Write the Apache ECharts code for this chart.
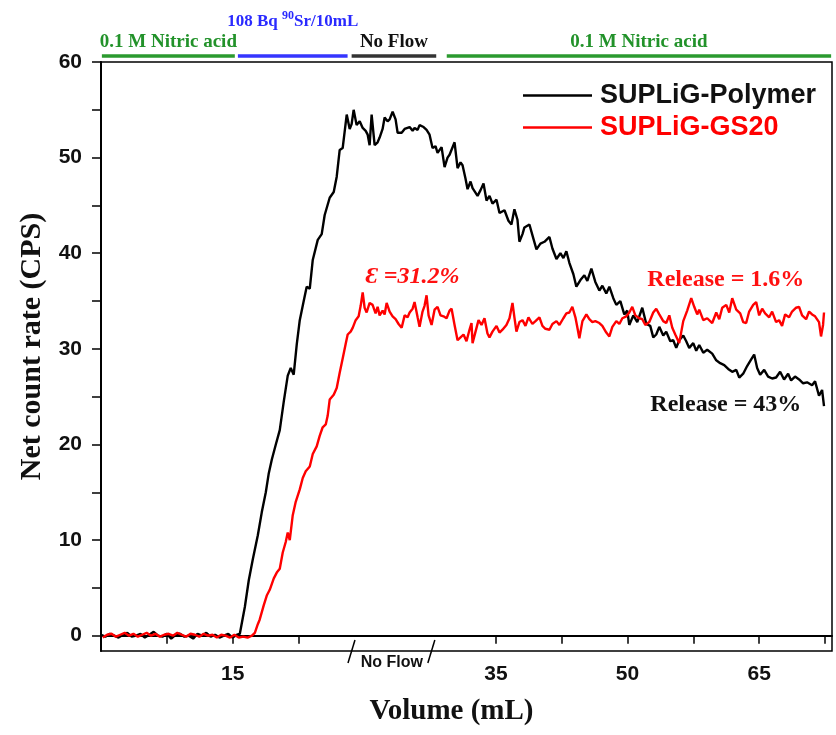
<!DOCTYPE html>
<html>
<head>
<meta charset="utf-8">
<title>SUPLiG release</title>
<script src="https://cdn.jsdelivr.net/npm/echarts@6.0.0/dist/echarts.min.js"></script>
<style>
    html, body { margin: 0; padding: 0; background: #fff; }
    #chart { width: 836px; height: 735px; }
</style>
</head>
<body>
<div id="chart"></div>
<script>
/* x is the position along the drawn axis: the "No Flow" span is inserted
   between the two volume ranges, so after it volume = x - noFlowShift */
var noFlowShift = 10;
var breakStart = 28.6;
var breakEnd = 37.7;

var seriesNames = ['SUPLiG-Polymer', 'SUPLiG-GS20'];

var polymerX = [0,0.5,1,1.5,2,2.5,3,3.5,4,4.5,5,5.5,6,6.5,7,7.5,8,8.5,9,9.5,10,10.5,11,11.5,12,12.5,13,13.5,14,14.5,15,15.5,
    15.82,16.39,16.84,17.3,17.87,18.32,18.78,19.12,19.46,19.92,20.37,20.83,21.28,21.62,21.96,22.31,22.65,23.1,23.44,23.79,24.13,24.7,25.15,25.49,26.06,26.52,26.86,27.2,27.54,28,
    28.34,28.56,28.79,29.13,29.48,29.82,30.16,30.39,30.61,30.84,31.18,31.52,31.75,32.09,32.32,32.66,32.89,33.23,33.57,33.8,34.26,34.6,34.82,35.17,35.51,35.73,36.08,36.3,36.76,37.1,37.44,37.78,
    38.12,38.35,38.81,39.15,39.49,39.72,40.29,40.63,40.97,41.2,41.54,41.77,42.11,42.34,42.91,43.25,43.59,43.93,44.27,44.61,45.07,45.41,45.98,46.43,46.77,47.11,47.46,47.68,48.03,48.25,48.82,
    49.28,49.62,50.07,50.53,51.1,51.44,51.9,52.35,52.69,53.03,53.37,53.83,54.17,54.63,55.08,55.42,55.88,56.33,56.79,57.13,57.58,57.93,58.38,58.72,59.18,59.63,59.97,60.2,60.66,61.11,61.68,
    62.14,62.59,62.93,63.27,63.62,64.07,64.41,64.87,65.21,65.55,65.89,66.35,66.69,67.03,67.49,67.83,68.17,68.63,69.08,69.65,70.11,70.56,71.02,71.47,71.93,72.39,72.73,73.18,73.63,74.09,74.43,
    74.77,75.11,75.57,76.02,76.48,76.93,77.39,77.84,78.3,78.64,79.09,79.55,80.01,80.46,81.03,81.37,81.82,82.17,82.39];
var polymerY = [0.1,-0.1,0.2,0,-0.2,0.1,0.3,-0.1,0,0.2,-0.2,0.1,0.4,0,-0.1,0.2,-0.3,0.1,0.2,-0.1,0,-0.3,0.2,0,0.3,-0.1,0.1,-0.2,0,0.2,-0.2,0.1,
    0.2,3,5.8,8,10.5,12.9,15,17,18.4,20,21.5,24.5,27.2,28,27.3,30.5,33,35,36.5,36.3,39.3,41.4,42,44,45.8,46.4,48,50.8,51,54.5,
    53,53.5,55,53.4,53.8,53.1,52.8,52.4,51.3,54.5,51.3,51.6,52.1,53,54.2,53.8,54,54.8,54,52.6,52.6,53,52.9,53.2,52.8,53.1,52.9,53.4,53.2,52.9,52.4,51,
    51.2,50.5,51.1,49,50,50.3,51.6,48.9,49.5,49.2,47.8,46.7,47.5,46.8,46,46.6,47.3,45.5,46,45.2,45.6,44.2,44.5,43.4,43,44.6,43.5,41.2,42,42.7,43,
    41.5,40.4,41,41.2,41.7,40.5,39.4,40,39.5,40.2,39,37.8,36.5,37.2,37.7,37.1,38.4,37,36.1,36.6,35.8,36.5,35.3,34.6,35,33.6,34,32.5,33.5,32.8,34.3,
    32.6,32.4,31.2,31.5,32.3,31.4,31.8,30.8,30.9,30.1,30.9,31.4,30.8,30.1,30.6,29.8,30.4,29.6,29.9,29.5,28.8,28.5,28.3,27.9,27.6,27.8,27,27.4,28.2,28.9,29.4,
    28,27.3,27.8,27.1,26.9,27,27.6,26.8,27.4,26.7,27.1,26.8,26.4,26.5,26.2,26.6,25.1,25.7,24];

var gs20X = [0.2,0.7,1.2,1.7,2.2,2.7,3.2,3.7,4.2,4.7,5.2,5.7,6.2,6.7,7.2,7.7,8.2,8.7,9.2,9.7,10.2,10.7,11.2,11.7,12.2,12.7,13.2,13.7,14.2,14.7,15.2,15.7,16.2,16.7,17.2,
    17.53,17.87,18.09,18.55,18.89,19.23,19.69,20.03,20.37,20.71,21.05,21.28,21.51,21.85,22.19,22.65,22.99,23.33,23.79,24.13,24.58,24.92,25.26,25.61,25.83,26.06,26.52,26.86,27.2,27.54,27.88,
    28.11,28.45,28.68,29.02,29.36,29.59,29.82,30.04,30.27,30.61,30.95,31.29,31.52,31.75,32.09,32.32,32.55,32.89,33.23,33.57,33.91,34.26,34.6,34.94,35.17,35.51,35.73,36.08,36.3,36.64,36.87,
    37.1,37.33,37.67,38.01,38.35,38.69,39.03,39.38,39.72,39.95,40.29,40.63,40.97,41.31,41.65,41.99,42.22,42.34,42.68,43.02,43.36,43.7,44.04,44.27,44.61,45.07,45.41,45.75,46.2,46.55,46.89,
    47.11,47.34,47.68,48.03,48.37,48.71,49.16,49.51,49.96,50.3,50.64,51.1,51.44,51.9,52.24,52.69,53.03,53.37,53.71,54.06,54.29,54.51,54.86,55.31,55.65,55.99,56.33,56.79,57.13,57.58,57.93,
    58.27,58.72,59.07,59.41,59.86,60.2,60.54,60.89,61.34,61.68,62.03,62.48,62.93,63.27,63.62,64.07,64.41,64.76,65.1,65.44,65.89,66.35,66.8,67.26,67.6,67.94,68.17,68.63,69.08,69.65,70.11,
    70.45,70.79,71.25,71.59,71.93,72.39,72.84,73.18,73.52,73.86,74.32,74.66,75,75.34,75.68,76.14,76.48,76.93,77.27,77.61,77.96,78.41,78.75,79.21,79.55,79.89,80.35,80.69,81.03,81.37,81.82,
    82.05,82.28,82.39];
var gs20Y = [-0.2,0.1,0.2,-0.1,0.1,0.3,0,0.2,-0.1,0.1,0.3,0,0.2,-0.1,0.1,0.2,0,0.3,0.1,-0.1,0.2,0.1,-0.1,0.2,0,0.1,-0.2,0.1,0,-0.2,0.1,-0.2,-0.1,-0.2,0,
    0.3,1.2,1.7,3.2,4.2,4.8,6,6.6,7,8.7,9.8,10.8,10,12.6,14,15.3,16.5,17.2,17.7,19,19.8,20.9,21.8,22.1,23,24.7,25.2,25.9,27.5,29,30.5,
    31.5,31.8,32.2,33,33.4,34.5,35.9,34.3,33.8,34.8,34.6,33.7,34.4,33.5,34,33.6,34.8,33.9,33.4,33.1,32.6,32.2,33.5,33.3,33.8,34.2,34.9,33.3,32.3,33.9,34.5,
    35.6,33.5,32.5,34.1,34.4,33.5,33.4,33.2,34,34.2,32.5,30.9,31.2,31.5,30.8,32,32.7,30.6,31.8,33,32.5,33.2,31.6,31.2,31.8,32.4,31.7,32,32.5,33.2,34.8,
    33.3,31.8,32.8,33,32.4,33.3,32.6,32.9,33.3,32.4,32.1,32,32.6,32.9,32.5,33.2,33.7,33.8,34.4,33.3,32.2,31.1,32.9,33.6,33.1,32.8,32.9,32.7,32.4,31.7,31.3,
    32.3,32.9,32.6,33.2,33.4,33.8,34.4,33.5,33.2,33.1,32.5,32.8,33.8,34.2,33.6,32.9,32.7,33.5,32.2,31.5,30.6,32.9,34,35.3,34.4,33.6,34.1,33,33.2,32.7,33.8,
    33.1,34.3,34.6,33.8,35.3,34.1,33.7,32.8,32.7,33.9,34.6,34.9,33.5,34.2,33.7,33.3,33.9,32.8,33,32.4,33.6,33.3,33.9,34.3,34.4,33.5,33.1,33.9,33.6,33.4,32.8,
    31.3,32.5,33.8];

var yTicks = [0, 5, 10, 15, 20, 25, 30, 35, 40, 45, 50, 55, 60];
var yLabels = [0, 10, 20, 30, 40, 50, 60];
var xTicks = [0, 7.5, 15, 22.5, 45, 52.5, 60, 67.5, 75, 82.5];
var xLabels = [15, 45, 60, 75];

// solution fed to the column, along the same axis
var phaseNames = ['0.1 M Nitric acid', '108 Bq {sup|90}Sr/10mL', 'No Flow', '0.1 M Nitric acid'];
var phaseStart = [0.1, 15.6, 28.56, 39.4];
var phaseEnd = [15.25, 28.1, 38.2, 83.2];

// text notes: [x, y, text]
var efficiencyNote = [35.5, 37.5, 'Ɛ =31.2%'];
var releaseGs20Note = [71.2, 37.2, 'Release = 1.6%'];
var releasePolymerNote = [71.2, 24.1, 'Release = 43%'];

var SERIF = 'Liberation Serif';
var SANS = 'Liberation Sans';
var PHASE_LEVEL = 0.14;

function pairs(xs, ys) {
    var out = [];
    for (var i = 0; i < xs.length; i++) {
        out.push([xs[i], ys[i]]);
    }
    return out;
}

var phaseColors = ['#2b9a2f', '#3535ff', '#333333', '#2b9a2f'];
var phaseTextColors = ['#22922a', '#2a2aff', '#111111', '#22922a'];

function phaseLine(i) {
    return {
        type: 'line',
        xAxisIndex: 1,
        yAxisIndex: 1,
        silent: true,
        symbol: 'none',
        lineStyle: { color: phaseColors[i], width: 3.5 },
        data: [[phaseStart[i], PHASE_LEVEL], [phaseEnd[i], PHASE_LEVEL]]
    };
}

function phaseLabels() {
    var data = [];
    for (var i = 0; i < phaseNames.length; i++) {
        data.push({
            value: [(phaseStart[i] + phaseEnd[i]) / 2, PHASE_LEVEL],
            label: {
                show: true,
                position: 'top',
                distance: i == 1 ? 23 : 5,
                formatter: phaseNames[i],
                color: phaseTextColors[i],
                fontFamily: SERIF,
                fontWeight: 'bold',
                fontSize: i == 1 ? 17 : 19,
                rich: {
                    sup: { fontSize: 12, fontFamily: SERIF, fontWeight: 'bold', color: phaseTextColors[i], padding: [0, 0, 11, 0] }
                }
            }
        });
    }
    return {
        type: 'scatter',
        xAxisIndex: 1,
        yAxisIndex: 1,
        silent: true,
        symbolSize: 0,
        itemStyle: { opacity: 1 },
        data: data
    };
}

function note(n, color, italic) {
    return {
        coord: [n[0], n[1]],
        label: {
            show: true,
            position: 'inside',
            formatter: n[2],
            fontFamily: SERIF,
            fontWeight: 'bold',
            fontStyle: italic ? 'italic' : 'normal',
            fontSize: 24,
            color: color
        }
    };
}

var chart = echarts.init(document.getElementById('chart'));

var option = {
    animation: false,
    backgroundColor: '#fff',
    grid: [
        { left: 101, right: 4, top: 62, bottom: 84, show: true, borderColor: '#000', borderWidth: 1.5 },
        { left: 101, right: 4, top: 20, height: 42 }
    ],
    legend: {
        orient: 'vertical',
        left: 523,
        top: 82,
        padding: 0,
        icon: 'rect',
        itemWidth: 69,
        itemHeight: 2.5,
        itemGap: 5,
        textStyle: { fontFamily: SANS, fontWeight: 'bold', fontSize: 27, padding: [0, 0, 0, 3] },
        data: [
            { name: seriesNames[0], textStyle: { color: '#111' } },
            { name: seriesNames[1], textStyle: { color: '#ff0000' } }
        ]
    },
    xAxis: [
        {
            type: 'value',
            gridIndex: 0,
            min: 0,
            max: 83.3,
            name: 'Volume (mL)',
            nameLocation: 'middle',
            nameGap: 46,
            nameTextStyle: { fontFamily: SERIF, fontWeight: 'bold', fontSize: 29, color: '#111', padding: [0, 30, 0, 0] },
            axisLine: { lineStyle: { color: '#000', width: 2 } },
            axisTick: { inside: false, length: 8, customValues: xTicks, lineStyle: { color: '#000', width: 1.5 } },
            axisLabel: {
                customValues: xLabels,
                margin: 13,
                fontFamily: SANS,
                fontWeight: 'bold',
                fontSize: 21,
                color: '#111',
                formatter: function (v) {
                    return String(v >= breakEnd ? v - noFlowShift : v);
                }
            },
            splitLine: { show: false }
        },
        {
            type: 'value',
            gridIndex: 1,
            min: 0,
            max: 83.3,
            show: false
        }
    ],
    yAxis: [
        {
            type: 'value',
            gridIndex: 0,
            min: -1.6,
            max: 60,
            name: 'Net count rate (CPS)',
            nameLocation: 'middle',
            nameGap: 50,
            nameTextStyle: { fontFamily: SERIF, fontWeight: 'bold', fontSize: 30, color: '#111', padding: [0, 0, 0, 20] },
            axisLine: { lineStyle: { color: '#000', width: 2 } },
            axisTick: { inside: false, length: 9, customValues: yTicks, lineStyle: { color: '#000', width: 1.5 } },
            axisLabel: {
                customValues: yLabels,
                margin: 19,
                fontFamily: SANS,
                fontWeight: 'bold',
                fontSize: 21,
                color: '#111'
            },
            splitLine: { show: false }
        },
        {
            type: 'value',
            gridIndex: 1,
            min: 0,
            max: 1,
            show: false
        }
    ],
    series: [
        {
            name: seriesNames[0],
            type: 'line',
            symbol: 'none',
            color: '#000',
            lineStyle: { color: '#000', width: 2.4 },
            data: pairs(polymerX, polymerY),
            markPoint: {
                symbolSize: 0,
                silent: true,
                data: [note(releasePolymerNote, '#111', false)]
            }
        },
        {
            name: seriesNames[1],
            type: 'line',
            symbol: 'none',
            color: '#ff0000',
            lineStyle: { color: '#ff0000', width: 2.4 },
            data: pairs(gs20X, gs20Y),
            markPoint: {
                symbolSize: 0,
                silent: true,
                data: [note(efficiencyNote, '#ff1010', true), note(releaseGs20Note, '#ff1010', false)]
            }
        },
        phaseLine(0),
        phaseLine(1),
        phaseLine(2),
        phaseLine(3),
        phaseLabels()
    ]
};

chart.setOption(option);

// axis break marks and the "No Flow" label under the axis
function drawBreaks() {
    var bottom = -1.6;
    var p1 = chart.convertToPixel({ gridIndex: 0 }, [breakStart, bottom]);
    var p2 = chart.convertToPixel({ gridIndex: 0 }, [breakEnd, bottom]);
    var slash = function (p) {
        return {
            type: 'line',
            shape: { x1: p[0] - 4, y1: p[1] + 12, x2: p[0] + 3, y2: p[1] - 11 },
            style: { stroke: '#000', lineWidth: 1.5 }
        };
    };
    chart.setOption({
        graphic: [
            slash(p1),
            slash(p2),
            {
                type: 'text',
                x: (p1[0] + p2[0]) / 2,
                y: p1[1] + 12,
                style: {
                    text: 'No Flow',
                    fill: '#111',
                    font: 'bold 16px "Liberation Sans"',
                    textAlign: 'center',
                    textVerticalAlign: 'middle'
                }
            }
        ]
    });
}
drawBreaks();
</script>
</body>
</html>
